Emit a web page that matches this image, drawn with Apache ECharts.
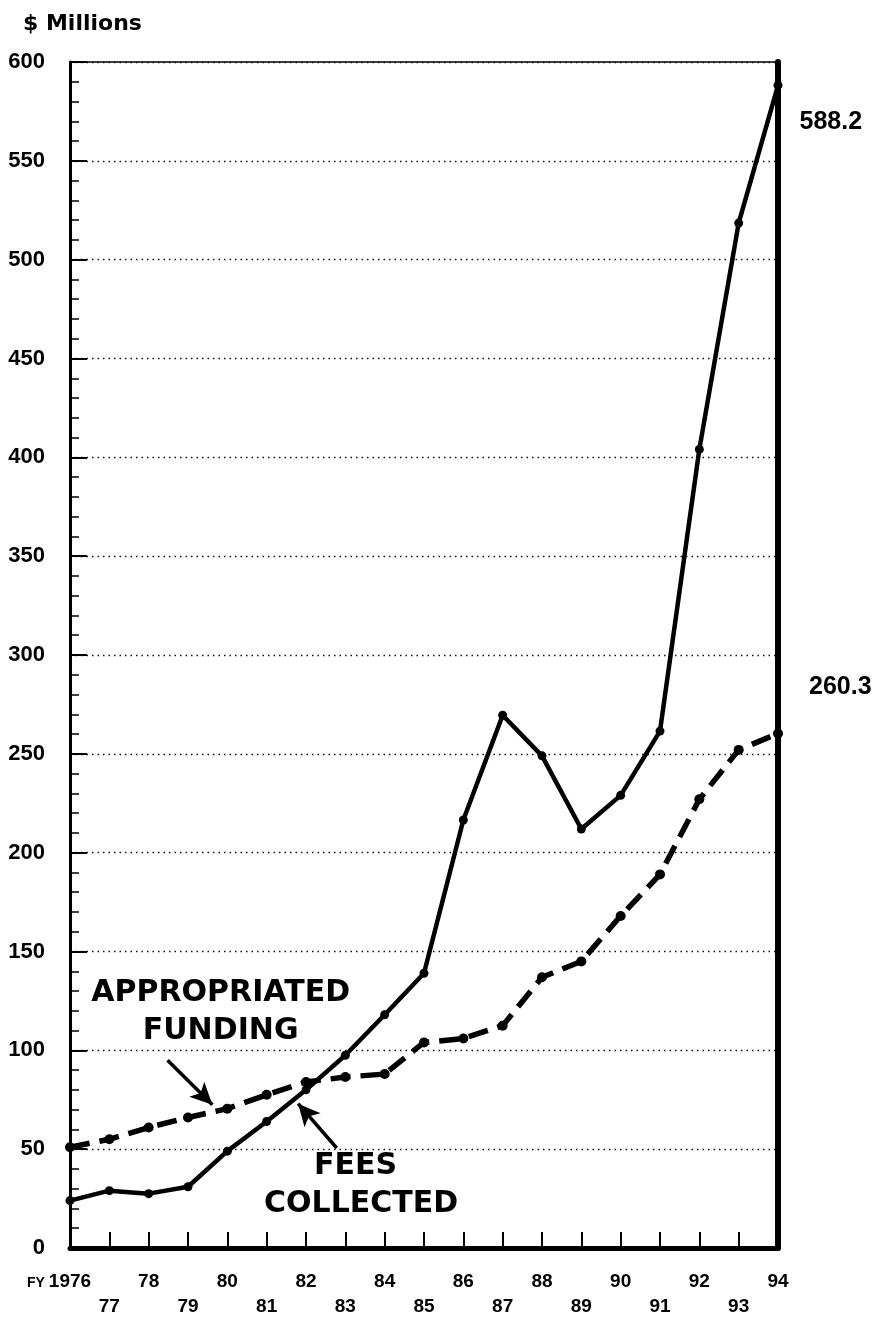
<!DOCTYPE html>
<html>
<head>
<meta charset="utf-8">
<script src="https://cdn.jsdelivr.net/npm/echarts@6/dist/echarts.min.js"></script>
<style>
  html, body { margin: 0; padding: 0; background: #fff; }
  #chart { width: 875px; height: 1317px; }
</style>
</head>
<body>
<div id="chart"></div>
<script>
// fiscal years on the x axis
const years = [1976, 1977, 1978, 1979, 1980, 1981, 1982, 1983, 1984, 1985,
  1986, 1987, 1988, 1989, 1990, 1991, 1992, 1993, 1994]
// $ millions
const feesCollected = [24, 29, 27.5, 31, 49, 64, 80, 97.5, 118, 139,
  216.5, 269.5, 249, 212, 229, 261.5, 404, 518.5, 588.2]
const appropriatedFunding = [51, 55, 61, 66, 70.5, 77.5, 84, 86.5, 88, 104,
  106, 112.5, 137, 145, 168, 189, 227, 252, 260.3]
const yTicks = [0, 50, 100, 150, 200, 250, 300, 350, 400, 450, 500, 550, 600]

const FONT = 'Liberation Sans, Arial, sans-serif'
const BIG = 'DejaVu Sans, sans-serif'

const chart = echarts.init(document.getElementById('chart'))

function pairs(vals) {
  return years.map((y, i) => ({ value: [y, vals[i]] }))
}

// end-of-line value labels
const feesData = pairs(feesCollected)
feesData[feesData.length - 1].label = {
  show: true, position: 'right', distance: 17, offset: [0, 37],
  formatter: String(feesCollected[feesCollected.length - 1]),
  fontFamily: FONT, fontWeight: 'bold', fontSize: 25, color: '#000'
}
const apprData = pairs(appropriatedFunding)
apprData[apprData.length - 1].label = {
  show: true, position: 'right', distance: 26, offset: [0, -46],
  formatter: String(appropriatedFunding[appropriatedFunding.length - 1]),
  fontFamily: FONT, fontWeight: 'bold', fontSize: 25, color: '#000'
}

function note(text, x, y) {
  return {
    coord: [x, y], symbol: 'circle', symbolSize: 1,
    itemStyle: { color: 'rgba(0,0,0,0)' },
    label: {
      show: true, position: 'inside', formatter: text,
      fontFamily: BIG, fontWeight: 'bold', fontSize: 30, color: '#000'
    }
  }
}

chart.setOption({
  backgroundColor: '#fff',
  animation: false,
  title: {
    text: '$ Millions', left: 18, top: 8,
    textStyle: { fontFamily: BIG, fontWeight: 'bold', fontSize: 22, color: '#000' }
  },
  // small "FY" prefix in front of the first year label
  graphic: [{
    type: 'text', left: 27, top: 1276,
    style: { text: 'FY', fontFamily: FONT, fontWeight: 'bold', fontSize: 14, fill: '#000' }
  }],
  grid: {
    left: 70, right: 97, top: 62, bottom: 69, outerBoundsMode: 'none',
    show: true, borderColor: '#000', borderWidth: 1.5
  },
  xAxis: {
    type: 'value', min: years[0], max: years[years.length - 1], interval: 1,
    axisLine: { show: true, onZero: false, lineStyle: { color: '#000', width: 5 } },
    axisTick: { show: true, inside: true, length: 16, lineStyle: { color: '#000', width: 2 } },
    splitLine: { show: false },
    axisLabel: {
      margin: 21, color: '#000', fontFamily: FONT, fontWeight: 'bold', fontSize: 19, lineHeight: 25,
      showMinLabel: true, showMaxLabel: true, hideOverlap: false,
      formatter: (v) => {
        if (v === years[0]) return '{b|' + v + '}'
        const s = String(v).slice(2)
        return v % 2 === 0 ? '{b|' + s + '}' : '\n{b|' + s + '}'
      },
      rich: {
        b: { fontFamily: FONT, fontWeight: 'bold', fontSize: 19, lineHeight: 25, color: '#000' }
      }
    }
  },
  yAxis: [{
    type: 'value', min: yTicks[0], max: yTicks[yTicks.length - 1], interval: 50,
    axisLine: { show: true, lineStyle: { color: '#000', width: 3 } },
    axisTick: { show: true, inside: true, length: 17, lineStyle: { color: '#000', width: 2 } },
    minorTick: { show: true, splitNumber: 5, length: 9, lineStyle: { color: '#000', width: 1.5 } },
    splitLine: { show: true, lineStyle: { color: '#111', width: 1.3, type: [1.5, 4] } },
    axisLabel: { margin: 25, color: '#000', fontFamily: FONT, fontWeight: 'bold', fontSize: 22 }
  }, {
    type: 'value', min: 0, max: 600, position: 'right',
    axisLine: { show: true, lineStyle: { color: '#000', width: 6 } },
    axisTick: { show: false }, axisLabel: { show: false }, splitLine: { show: false }
  }],
  series: [{
    name: 'Fees collected', type: 'line', data: feesData,
    symbol: 'circle', symbolSize: 9, z: 4,
    itemStyle: { color: '#000' },
    lineStyle: { color: '#000', width: 4.5 },
    markLine: {
      silent: true, symbol: ['none', 'arrow'], symbolSize: [16, 22],
      lineStyle: { color: '#000', width: 3.5, type: 'solid' }, label: { show: false },
      data: [[{ coord: [1982.78, 50.6] }, { coord: [1981.8, 73] }]]
    },
    markPoint: {
      silent: true,
      data: [note('FEES', 1983.26, 41.5), note('COLLECTED', 1983.4, 22.3)]
    }
  }, {
    name: 'Appropriated funding', type: 'line', data: apprData,
    symbol: 'circle', symbolSize: 10, z: 3,
    itemStyle: { color: '#000' },
    lineStyle: { color: '#000', width: 5.5, type: [20, 10] },
    markLine: {
      silent: true, symbol: ['none', 'arrow'], symbolSize: [16, 22],
      lineStyle: { color: '#000', width: 3.5, type: 'solid' }, label: { show: false },
      data: [[{ coord: [1978.48, 95] }, { coord: [1979.62, 72.5] }]]
    },
    markPoint: {
      silent: true,
      data: [note('APPROPRIATED', 1979.83, 129), note('FUNDING', 1979.83, 109.8)]
    }
  }]
})
</script>
</body>
</html>
